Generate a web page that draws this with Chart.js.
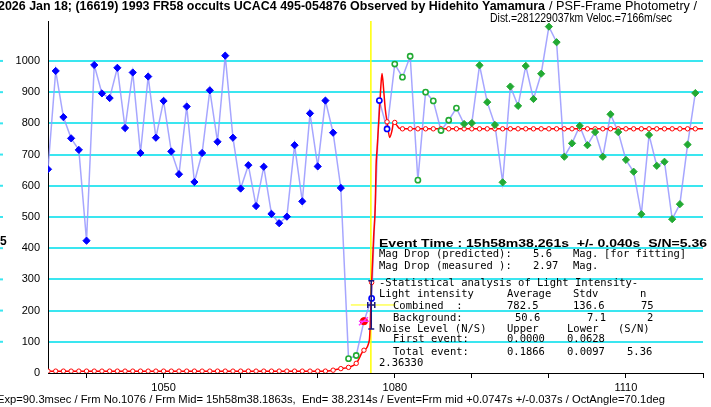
<!DOCTYPE html>
<html>
<head>
<meta charset="utf-8">
<script src="https://cdn.jsdelivr.net/npm/chart.js@4/dist/chart.umd.min.js"></script>
<style>
html, body { margin: 0; padding: 0; background: #fff; }
canvas { display: block; }
</style>
</head>
<body>
<canvas id="myChart" width="711" height="407"></canvas>
<script>
// observed light curve, one value per frame starting at frame 1035
const firstFrame = 1035;
const flux = [
  653, 968, 820, 752, 715, 424, 987, 896, 881, 978,
  785, 963, 705, 950, 754, 872, 710, 637, 854, 612,
  705, 906, 741, 1017, 754, 591, 666, 535, 661, 510,
  480, 501, 730, 550, 832, 662, 873, 770, 593, 46,
  56, 166, 239, 873, 782, 990, 948, 1015, 618, 900,
  872, 777, 810, 849, 798, 801, 986, 868, 795, 611,
  918, 856, 984, 878, 959, 1110, 1060, 693, 736, 792,
  730, 772, 693, 829, 772, 683, 645, 509, 763, 664,
  677, 493, 541, 732, 897
];

// fitted diffraction model (red curve)
const fitFrames = [1035, 1071, 1072, 1073, 1074, 1075, 1076, 1076.7, 1077, 1077.26, 1077.48, 1077.57, 1077.7,
                   1078.04, 1078.22, 1078.35, 1078.56, 1078.78, 1079, 1079.34, 1079.66, 1079.86, 1080.31, 1080.6, 1081, 1120];
const fitValues = [6, 6, 9, 14, 18, 31, 73, 105, 290, 437, 544, 661, 715,
                   853, 928, 960, 907, 843, 805, 755, 779, 805, 792, 784, 782.5, 782.5];

// model value per frame (red circles)
const modelFrames = [
  1035, 1036, 1037, 1038, 1039, 1040, 1041, 1042, 1043, 1044, 1045, 1046, 1047, 1048, 1049, 1050, 1051, 1052,
  1053, 1054, 1055, 1056, 1057, 1058, 1059, 1060, 1061, 1062, 1063, 1064, 1065, 1066, 1067, 1068, 1069, 1070,
  1071, 1072, 1073, 1074, 1075, 1076, 1077, 1079, 1080,
  1081, 1082, 1083, 1084, 1085, 1086, 1087, 1088, 1089, 1090, 1091, 1092, 1093, 1094, 1095, 1096, 1097, 1098, 1099, 1100,
  1101, 1102, 1103, 1104, 1105, 1106, 1107, 1108, 1109, 1110, 1111, 1112, 1113, 1114, 1115, 1116, 1117, 1118, 1119
];
const modelValues = [
  6, 6, 6, 6, 6, 6, 6, 6, 6, 6, 6, 6, 6, 6, 6, 6, 6, 6,
  6, 6, 6, 6, 6, 6, 6, 6, 6, 6, 6, 6, 6, 6, 6, 6, 6, 6,
  6, 9, 14, 18, 31, 73, 290, 805, 803,
  782.5, 782.5, 782.5, 782.5, 782.5, 782.5, 782.5, 782.5, 782.5, 782.5, 782.5, 782.5, 782.5, 782.5, 782.5, 782.5, 782.5, 782.5, 782.5, 782.5,
  782.5, 782.5, 782.5, 782.5, 782.5, 782.5, 782.5, 782.5, 782.5, 782.5, 782.5, 782.5, 782.5, 782.5, 782.5, 782.5, 782.5, 782.5, 782.5
];

const xTickLabels = [1050, 1080, 1110];
const yTickLabels = [0, 100, 200, 300, 400, 500, 600, 700, 800, 900, 1000];
const eventFrame = 1076.9;
const halfLevel = 218;

const observed = flux.map((v, i) => ({x: firstFrame + i, y: v}));
const fitCurve = fitFrames.map((f, i) => ({x: f, y: fitValues[i]}));
const modelPts = modelFrames.map((f, i) => ({x: f, y: modelValues[i]}));

const BLUE = '#0000ff', GREEN = '#22aa33', RED = '#ff0000', CYAN = '#3ae6f0';

function kind(f) {
  if (f <= 1073) return 'blueFill';
  if (f <= 1075) return 'greenOpen';
  if (f === 1076) return 'red';
  if (f <= 1079) return 'blueOpen';
  if (f <= 1088) return 'greenOpen';
  return 'greenFill';
}

function fitText(ctx, text, x, y, w) {
  const m = ctx.measureText(text).width;
  ctx.save();
  ctx.translate(x, y);
  ctx.scale(w / m, 1);
  ctx.fillText(text, 0, 0);
  ctx.restore();
}

const overlay = {
  id: 'overlay',
  beforeDatasetsDraw(chart) {
    const {ctx, chartArea, scales: {x, y}} = chart;
    ctx.save();
    // event time line
    const ex = x.getPixelForValue(eventFrame);
    ctx.strokeStyle = '#ffff00';
    ctx.lineWidth = 1.5;
    ctx.beginPath();
    ctx.moveTo(ex, chartArea.top);
    ctx.lineTo(ex, chartArea.bottom);
    ctx.stroke();
    const hy = y.getPixelForValue(halfLevel);
    ctx.lineWidth = 1;
    ctx.beginPath();
    ctx.moveTo(x.getPixelForValue(1074.3), hy);
    ctx.lineTo(x.getPixelForValue(1080.1), hy);
    ctx.stroke();
    // little cyan dashes at the very left edge
    ctx.lineWidth = 2;
    ctx.strokeStyle = CYAN;
    yTickLabels.forEach(v => {
      if (v === 0) return;
      const py = y.getPixelForValue(v);
      ctx.beginPath(); ctx.moveTo(0, py); ctx.lineTo(3, py); ctx.stroke();
    });
    ctx.restore();
  },
  afterDatasetsDraw(chart) {
    const {ctx, scales: {x, y}} = chart;
    ctx.save();
    // error bars of the event
    const bx = x.getPixelForValue(1076.95);
    ctx.strokeStyle = '#1a1a80';
    ctx.lineWidth = 1.5;
    ctx.beginPath();
    ctx.moveTo(bx, y.getPixelForValue(296)); ctx.lineTo(bx, y.getPixelForValue(141));
    ctx.moveTo(bx - 3, y.getPixelForValue(296)); ctx.lineTo(bx + 3, y.getPixelForValue(296));
    ctx.moveTo(bx - 3, y.getPixelForValue(141)); ctx.lineTo(bx + 3, y.getPixelForValue(141));
    const hy = y.getPixelForValue(halfLevel);
    ctx.moveTo(bx - 3.5, hy); ctx.lineTo(bx + 3.5, hy);
    ctx.moveTo(bx - 3.5, hy - 3); ctx.lineTo(bx - 3.5, hy + 3);
    ctx.moveTo(bx + 3.5, hy - 3); ctx.lineTo(bx + 3.5, hy + 3);
    ctx.stroke();
    // magenta cross on the partial frame
    const mx = x.getPixelForValue(1076), my = y.getPixelForValue(166);
    ctx.strokeStyle = '#ff33ff';
    ctx.lineWidth = 1.5;
    ctx.beginPath();
    ctx.moveTo(mx - 5, my + 4); ctx.lineTo(mx + 4, my - 4);
    ctx.moveTo(mx - 5, my); ctx.lineTo(mx + 5, my);
    ctx.stroke();
    ctx.restore();
  },
  afterDraw(chart) {
    const ctx = chart.ctx;
    ctx.save();
    ctx.fillStyle = '#000';
    ctx.textBaseline = 'middle';
    ctx.textAlign = 'left';

    ctx.font = 'bold 12px "Liberation Sans"';
    fitText(ctx, '2026 Jan 18; (16619) 1993 FR58 occults UCAC4 495-054876 Observed by Hidehito Yamamura', -2, 7, 547);
    ctx.font = '12px "Liberation Sans"';
    fitText(ctx, '/ PSF-Frame Photometry /', 549, 7, 148);
    fitText(ctx, 'Dist.=281229037km Veloc.=7166m/sec', 490, 19, 182);

    ctx.font = '11px "Liberation Sans"';
    fitText(ctx, 'Exp=90.3msec / Frm No.1076 / Frm Mid= 15h58m38.1863s,  End= 38.2314s / Event=Frm mid +0.0747s +/-0.037s / OctAngle=70.1deg', -3, 400, 668);

    ctx.font = 'bold 12px "Liberation Sans"';
    ctx.fillText('5', 0, 242);

    ctx.font = 'bold 11.5px "Liberation Sans"';
    fitText(ctx, 'Event Time : 15h58m38.261s  +/- 0.040s  S/N=5.36', 379, 243.5, 328);

    ctx.font = '10.5px "DejaVu Sans Mono"';
    const rows = [
      [254.5, [[379, 'Mag Drop (predicted):'], [533, '5.6'], [573, 'Mag.'], [604, '[for fitting]']]],
      [266, [[379, 'Mag Drop (measured ):'], [533, '2.97'], [573, 'Mag.']]],
      [283.5, [[379, '-Statistical analysis of Light Intensity-']]],
      [294.5, [[379, 'Light intensity'], [507, 'Average'], [573, 'Stdv'], [640, 'n']]],
      [306, [[393, 'Combined  :'], [507, '782.5'], [573, '136.6'], [641, '75']]],
      [318, [[393, 'Background:'], [515, '50.6'], [587, '7.1'], [647, '2']]],
      [329, [[379, 'Noise Level (N/S)'], [507, 'Upper'], [567, 'Lower'], [618, '(S/N)']]],
      [339.5, [[393, 'First event:'], [507, '0.0000'], [567, '0.0628']]],
      [352, [[393, 'Total event:'], [507, '0.1866'], [567, '0.0097'], [627, '5.36']]],
      [363.5, [[379, '2.36330']]]
    ];
    rows.forEach(([ty, segs]) => segs.forEach(([tx, s]) => ctx.fillText(s, tx, ty)));
    ctx.restore();
  }
};

const myChart = new Chart(document.getElementById('myChart').getContext('2d'), {
  type: 'scatter',
  data: {
    datasets: [
      {
        label: 'observed markers',
        data: observed,
        showLine: false,
        order: 1,
        pointStyle: c => {
          const k = kind(c.raw.x);
          return (k === 'blueFill' || k === 'greenFill') ? 'rectRot' : 'circle';
        },
        pointRadius: c => {
          const k = kind(c.raw.x);
          return (k === 'blueFill' || k === 'greenFill' || k === 'red') ? 3.6 : 2.6;
        },
        pointBackgroundColor: c => {
          const k = kind(c.raw.x);
          if (k === 'blueFill') return BLUE;
          if (k === 'greenFill') return GREEN;
          if (k === 'red') return RED;
          return '#ffffff';
        },
        pointBorderColor: c => {
          const k = kind(c.raw.x);
          if (k === 'blueFill' || k === 'blueOpen') return BLUE;
          if (k === 'red') return RED;
          return GREEN;
        },
        pointBorderWidth: c => (kind(c.raw.x).endsWith('Open') ? 1.6 : 1),
        pointHoverRadius: 0
      },
      {
        label: 'model points',
        data: modelPts,
        showLine: false,
        order: 2,
        pointStyle: 'circle',
        pointRadius: 2.2,
        pointBorderWidth: 1,
        pointBorderColor: RED,
        pointBackgroundColor: '#ffffff'
      },
      {
        label: 'fit',
        data: fitCurve,
        showLine: true,
        order: 3,
        borderColor: RED,
        borderWidth: 1.5,
        pointRadius: 0,
        cubicInterpolationMode: 'monotone'
      },
      {
        label: 'observed line',
        data: observed,
        showLine: true,
        order: 4,
        borderColor: 'rgba(150,150,255,0.85)',
        borderWidth: 1.5,
        pointRadius: 0
      }
    ]
  },
  options: {
    responsive: false,
    animation: false,
    devicePixelRatio: 1,
    layout: { padding: { left: 0, right: 8, top: 21, bottom: 0 } },
    plugins: { legend: { display: false }, tooltip: { enabled: false }, title: { display: false } },
    scales: {
      x: {
        type: 'linear',
        min: 1035,
        max: 1120,
        afterFit: s => { s.height = 34; },
        border: { color: '#000', width: 1 },
        grid: { drawOnChartArea: false, drawTicks: true, tickLength: 5, color: '#000' },
        ticks: {
          stepSize: 10,
          includeBounds: false,
          autoSkip: false,
          maxRotation: 0,
          padding: 3,
          color: '#000',
          font: { family: 'Liberation Sans', size: 11 },
          callback: v => (xTickLabels.includes(v) ? String(v) : '')
        }
      },
      y: {
        min: 0,
        max: 1128,
        afterFit: s => { s.width = 48; },
        border: { color: '#000', width: 1 },
        grid: {
          drawTicks: false,
          lineWidth: 2,
          color: c => (c.tick && c.tick.value >= 100 && c.tick.value <= 1000 ? CYAN : 'rgba(0,0,0,0)')
        },
        ticks: {
          stepSize: 100,
          includeBounds: false,
          padding: 8,
          color: '#000',
          font: { family: 'Liberation Sans', size: 11 },
          callback: v => (yTickLabels.includes(v) ? String(v) : '')
        }
      }
    }
  },
  plugins: [overlay]
});
</script>
</body>
</html>
